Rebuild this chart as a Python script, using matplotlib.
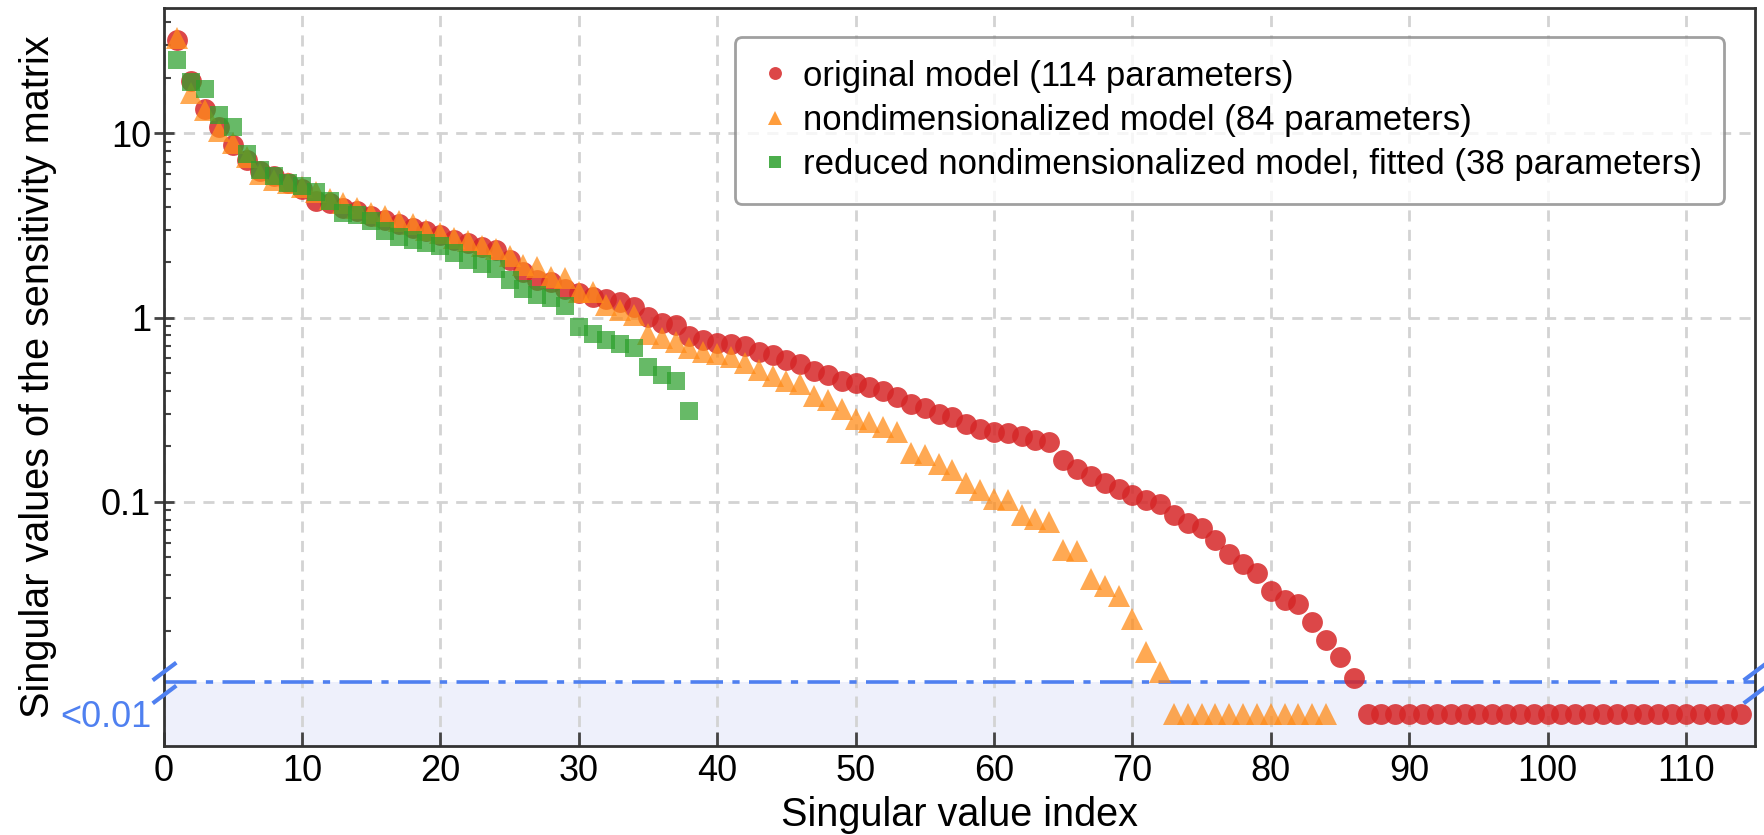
import numpy as np
import matplotlib
matplotlib.use("Agg")
import matplotlib.pyplot as plt
import matplotlib.transforms as mtransforms
from matplotlib.ticker import FixedLocator, NullFormatter

plt.rcParams['font.family'] = ['Liberation Sans', 'DejaVu Sans']

# ---------------- data (0.0 means "below 0.01") ----------------
red_vals = [32, 19.1, 13.6, 10.8, 8.6, 7.2, 6.25, 5.9, 5.4, 5.0,
            4.3, 4.2, 3.95, 3.8, 3.55, 3.4, 3.2, 3.07, 2.96, 2.8,
            2.65, 2.53, 2.43, 2.33, 2.05, 1.77, 1.6, 1.55, 1.43, 1.36,
            1.30, 1.26, 1.22, 1.14, 1.01, 0.93, 0.91, 0.79, 0.76, 0.73,
            0.72, 0.70, 0.65, 0.63, 0.59, 0.56, 0.515, 0.485, 0.455, 0.44,
            0.42, 0.40, 0.37, 0.34, 0.325, 0.30, 0.287, 0.263, 0.25, 0.24,
            0.237, 0.227, 0.216, 0.212, 0.168, 0.15, 0.138, 0.127, 0.117, 0.109,
            0.102, 0.097, 0.085, 0.077, 0.072, 0.062, 0.052, 0.046, 0.041, 0.033,
            0.0295, 0.028, 0.0223, 0.0178, 0.0143, 0.0111] + [0.0] * 28

orange_vals = [33, 16.5, 13.3, 10.3, 8.9, 7.4, 6.0, 5.6, 5.4, 5.1,
               4.8, 4.4, 4.2, 3.95, 3.7, 3.55, 3.34, 3.2, 3.0, 2.87,
               2.7, 2.59, 2.46, 2.36, 2.17, 1.93, 1.88, 1.67, 1.63, 1.38,
               1.38, 1.17, 1.10, 1.03, 0.81, 0.77, 0.74, 0.68, 0.65, 0.635,
               0.61, 0.565, 0.52, 0.48, 0.45, 0.435, 0.375, 0.356, 0.32, 0.283,
               0.27, 0.255, 0.24, 0.183, 0.179, 0.161, 0.149, 0.126, 0.116, 0.104,
               0.102, 0.085, 0.081, 0.078, 0.055, 0.054, 0.038, 0.035, 0.031, 0.023,
               0.0153, 0.012] + [0.0] * 12

green_vals = [25, 19, 17.5, 12.5, 10.8, 7.7, 6.3, 5.9, 5.4, 5.2,
              4.8, 4.3, 3.7, 3.6, 3.35, 2.95, 2.75, 2.62, 2.55, 2.45,
              2.25, 2.06, 1.95, 1.84, 1.6, 1.43, 1.33, 1.27, 1.15, 0.89,
              0.81, 0.76, 0.72, 0.68, 0.54, 0.49, 0.45, 0.31]

labels = ["original model (114 parameters)",
          "nondimensionalized model (84 parameters)",
          "reduced nondimensionalized model, fitted (38 parameters)"]
colors = ["#d62728", "#ff8c1a", "#2ca02c"]
alphas = [0.85, 0.75, 0.72]
markers = ["o", "^", "s"]
msizes = [15.0, 16.0, 13.0]

x_ticks = list(range(0, 111, 10))
y_major = [0.1, 1, 10]
y_major_labels = ["0.1", "1", "10"]
threshold_label = "<0.01"

# display constants
THRESH = 0.01
FLOOR = 10 ** -2.15
BREAK_Y = 10 ** -1.98
YMIN, YMAX = 10 ** -2.325, 10 ** 1.678
BLUE = "#4f80f0"

fig = plt.figure(figsize=(17.64, 8.35), dpi=100)
ax = fig.add_axes([0.0927, 0.1066, 0.9023, 0.8834])

ax.axhspan(YMIN, BREAK_Y, color="#eef0fb", zorder=0, lw=0)

series = [red_vals, orange_vals, green_vals]
for vals, lab, c, a, m, ms in zip(series, labels, colors, alphas, markers, msizes):
    v = np.array(vals, dtype=float)
    idx = np.arange(1, len(v) + 1)
    disp = np.where(v < THRESH, FLOOR, v)
    ax.plot(idx, disp, linestyle="none", marker=m, markersize=ms, color=c,
            alpha=a, markeredgewidth=0, label=lab, zorder=3)

ax.axhline(BREAK_Y, color=BLUE, lw=2.6, dashes=(9, 2.6, 2, 2.6), zorder=2)

ax.set_yscale("log")
ax.set_xlim(0, 115)
ax.set_ylim(YMIN, YMAX)

ax.set_xticks(x_ticks)
ax.set_yticks([FLOOR] + y_major)
ax.set_yticklabels([threshold_label] + y_major_labels)
minor = [k * 10.0 ** e for e in (-2, -1, 0, 1) for k in range(2, 10)]
minor = [m for m in minor if m < YMAX]
ax.yaxis.set_minor_locator(FixedLocator(minor))
ax.yaxis.set_minor_formatter(NullFormatter())

ax.tick_params(axis="y", which="major", direction="inout", length=14, width=2,
               labelsize=26, color="#444444", pad=2)
ax.tick_params(axis="y", which="minor", direction="in", length=5, width=1.5,
               color="#444444")
ax.tick_params(axis="x", which="major", direction="in", length=10, width=2,
               labelsize=26, color="#444444", pad=6)

yt = ax.yaxis.get_major_ticks()[0]
yt.tick1line.set_visible(False)
yt.label1.set_color(BLUE)

ax.grid(True, which="major", color="#d3d3d3", lw=2, dashes=(4, 3), zorder=1)
ax.yaxis.get_major_ticks()[0].gridline.set_visible(False)

for s in ax.spines.values():
    s.set_color("#333333")
    s.set_linewidth(2)

# break marks on both spines
trans = mtransforms.blended_transform_factory(ax.transAxes, ax.transData)
off = 10 ** 0.062
for xa in (0, 1):
    ax.plot([xa, xa], [BREAK_Y * off, BREAK_Y / off], transform=trans,
            linestyle="none", marker=[(-1, -0.75), (1, 0.75)], markersize=17,
            markeredgewidth=3, color=BLUE, clip_on=False, zorder=5)

ax.set_xlabel("Singular value index", fontsize=28.5, labelpad=5)
ax.set_ylabel("Singular values of the sensitivity matrix", fontsize=28.5, labelpad=2)

leg = ax.legend(loc="upper right", bbox_to_anchor=(0.9805, 0.9612), fontsize=25,
                markerscale=0.62, frameon=True, fancybox=True, handletextpad=0.3,
                handlelength=1.0, borderpad=0.65, labelspacing=0.33,
                borderaxespad=0)
leg.get_frame().set_edgecolor("#888888")
leg.get_frame().set_linewidth(2)
for lh in leg.legend_handles:
    lh.set_alpha(0.85)

fig.savefig("out.png", dpi=100)
